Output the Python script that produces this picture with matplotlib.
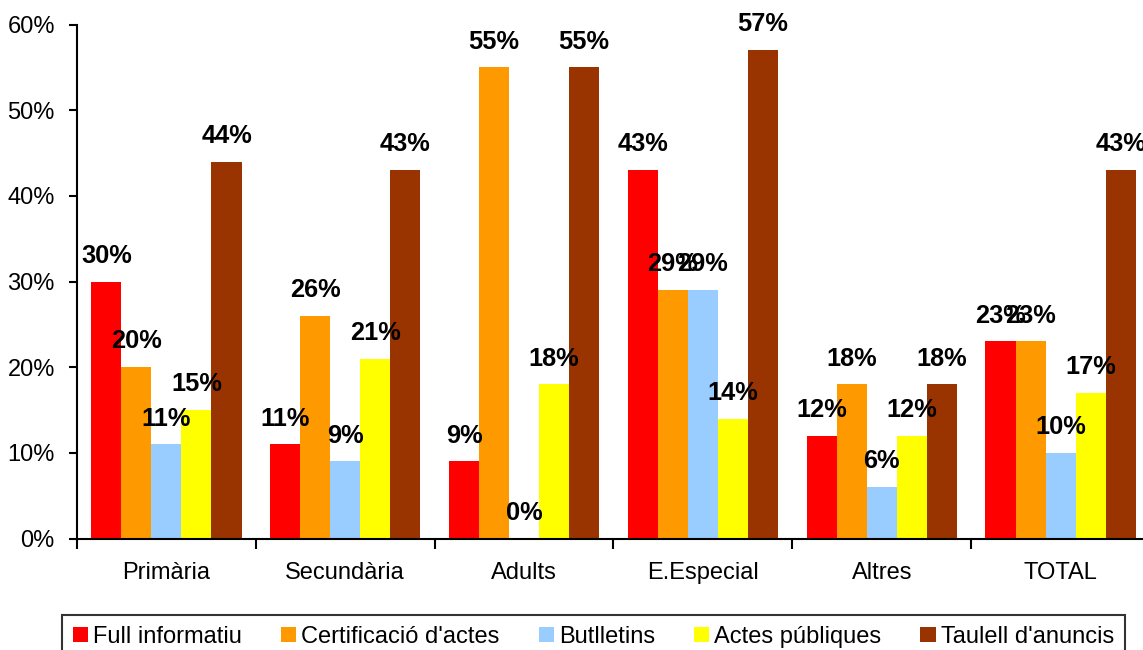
import matplotlib
matplotlib.use("Agg")
import matplotlib.pyplot as plt
import numpy as np
from matplotlib.ticker import FuncFormatter, FixedLocator

plt.rcParams['font.family'] = ['Liberation Sans', 'DejaVu Sans']

categories = ["Primària", "Secundària", "Adults", "E.Especial", "Altres", "TOTAL"]
series_names = ["Full informatiu", "Certificació d'actes", "Butlletins", "Actes públiques", "Taulell d'anuncis"]
full_informatiu = [30, 11, 9, 43, 12, 23]
certificacio = [20, 26, 55, 29, 18, 23]
butlletins = [11, 9, 0, 29, 6, 10]
actes_publiques = [15, 21, 18, 14, 12, 17]
taulell = [44, 43, 55, 57, 18, 43]
colors = ["#FF0000", "#FF9900", "#99CCFF", "#FFFF00", "#993300"]

series = [full_informatiu, certificacio, butlletins, actes_publiques, taulell]

fig = plt.figure(figsize=(11.43, 6.5), dpi=100)
ax = fig.add_axes([77/1143, 111.5/650, 1073/1143, 514/650])

x = np.arange(len(categories))
w = 0.168
handles = []
for i, (vals, name, c) in enumerate(zip(series, series_names, colors)):
    pos = x + (i - 2) * w
    b = ax.bar(pos, vals, width=w, color=c, label=name, linewidth=0)
    handles.append(b)
    for px, v in zip(pos, vals):
        ax.annotate(f"{v}%", (px, v), xytext=(0, 13.5), textcoords="offset points",
                    ha="center", va="baseline", fontsize=18.3, fontweight="bold",
                    annotation_clip=False)

ax.set_xlim(-0.5, len(categories) - 0.5)
ax.set_ylim(0, 60)
ax.yaxis.set_major_locator(FixedLocator(np.arange(0, 61, 10)))
ax.yaxis.set_major_formatter(FuncFormatter(lambda v, p: f"{int(v)}%"))
ax.tick_params(axis="y", direction="out", length=6, width=1.5, pad=10, labelsize=17)

ax.set_xticks(np.arange(-0.5, len(categories), 1.0))
ax.set_xticklabels([])
ax.set_xticks(x, minor=True)
ax.set_xticklabels(categories, minor=True)
ax.tick_params(axis="x", which="major", direction="out", length=7, width=1.5)
ax.tick_params(axis="x", which="minor", length=0, pad=17, labelsize=17)

for s in ["top", "right"]:
    ax.spines[s].set_visible(False)
for s in ["left", "bottom"]:
    ax.spines[s].set_linewidth(1.5)

leg = fig.legend(handles=handles, labels=series_names, loc="upper center",
                 bbox_to_anchor=(593.5/1143, 1 - 615/650),
                 ncol=5, fontsize=17, frameon=True, fancybox=False, borderaxespad=0,
                 handlelength=0.64, handleheight=0.64, handletextpad=0.22,
                 columnspacing=1.65, borderpad=0.45)
leg.get_frame().set_edgecolor("black")
leg.get_frame().set_linewidth(1.5)

fig.savefig("out.png", dpi=100)
